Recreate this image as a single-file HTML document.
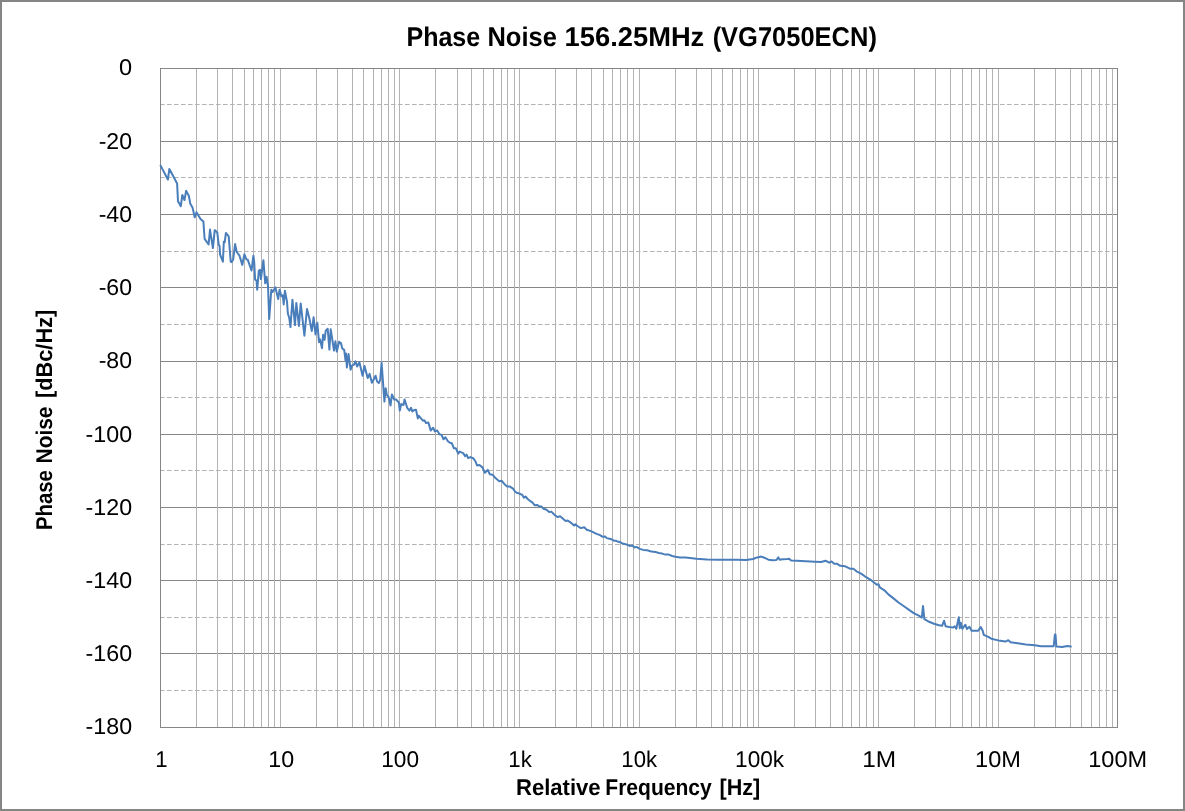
<!DOCTYPE html>
<html><head><meta charset="utf-8"><style>
html,body{margin:0;padding:0;width:1185px;height:811px;overflow:hidden;background:#fff;}
body{position:relative;font-family:"Liberation Sans",sans-serif;}
</style></head><body>
<svg width="1185" height="811" viewBox="0 0 1185 811" style="position:absolute;left:0;top:0;display:block"><rect x="1" y="1" width="1183" height="809" fill="#ffffff" stroke="#858585" stroke-width="2"/><rect x="160" y="68" width="958" height="1" fill="#868686"/><rect x="160" y="141" width="958" height="1" fill="#868686"/><rect x="160" y="214" width="958" height="1" fill="#868686"/><rect x="160" y="287" width="958" height="1" fill="#868686"/><rect x="160" y="361" width="958" height="1" fill="#868686"/><rect x="160" y="434" width="958" height="1" fill="#868686"/><rect x="160" y="507" width="958" height="1" fill="#868686"/><rect x="160" y="580" width="958" height="1" fill="#868686"/><rect x="160" y="653" width="958" height="1" fill="#868686"/><rect x="160" y="727" width="958" height="1" fill="#868686"/><line x1="160" y1="104.5" x2="1117" y2="104.5" stroke="#b3b3b3" stroke-width="1" stroke-dasharray="4.6 2.4"/><line x1="160" y1="177.5" x2="1117" y2="177.5" stroke="#b3b3b3" stroke-width="1" stroke-dasharray="4.6 2.4"/><line x1="160" y1="251.5" x2="1117" y2="251.5" stroke="#b3b3b3" stroke-width="1" stroke-dasharray="4.6 2.4"/><line x1="160" y1="324.5" x2="1117" y2="324.5" stroke="#b3b3b3" stroke-width="1" stroke-dasharray="4.6 2.4"/><line x1="160" y1="397.5" x2="1117" y2="397.5" stroke="#b3b3b3" stroke-width="1" stroke-dasharray="4.6 2.4"/><line x1="160" y1="470.5" x2="1117" y2="470.5" stroke="#b3b3b3" stroke-width="1" stroke-dasharray="4.6 2.4"/><line x1="160" y1="544.5" x2="1117" y2="544.5" stroke="#b3b3b3" stroke-width="1" stroke-dasharray="4.6 2.4"/><line x1="160" y1="617.5" x2="1117" y2="617.5" stroke="#b3b3b3" stroke-width="1" stroke-dasharray="4.6 2.4"/><line x1="160" y1="690.5" x2="1117" y2="690.5" stroke="#b3b3b3" stroke-width="1" stroke-dasharray="4.6 2.4"/><rect x="196" y="68" width="1" height="659" fill="#b3b3b3"/><rect x="217" y="68" width="1" height="659" fill="#b3b3b3"/><rect x="232" y="68" width="1" height="659" fill="#b3b3b3"/><rect x="244" y="68" width="1" height="659" fill="#b3b3b3"/><rect x="253" y="68" width="1" height="659" fill="#b3b3b3"/><rect x="261" y="68" width="1" height="659" fill="#b3b3b3"/><rect x="268" y="68" width="1" height="659" fill="#b3b3b3"/><rect x="274" y="68" width="1" height="659" fill="#b3b3b3"/><rect x="280" y="68" width="1" height="659" fill="#b3b3b3"/><rect x="316" y="68" width="1" height="659" fill="#b3b3b3"/><rect x="337" y="68" width="1" height="659" fill="#b3b3b3"/><rect x="352" y="68" width="1" height="659" fill="#b3b3b3"/><rect x="363" y="68" width="1" height="659" fill="#b3b3b3"/><rect x="373" y="68" width="1" height="659" fill="#b3b3b3"/><rect x="381" y="68" width="1" height="659" fill="#b3b3b3"/><rect x="388" y="68" width="1" height="659" fill="#b3b3b3"/><rect x="394" y="68" width="1" height="659" fill="#b3b3b3"/><rect x="399" y="68" width="1" height="659" fill="#b3b3b3"/><rect x="435" y="68" width="1" height="659" fill="#b3b3b3"/><rect x="457" y="68" width="1" height="659" fill="#b3b3b3"/><rect x="471" y="68" width="1" height="659" fill="#b3b3b3"/><rect x="483" y="68" width="1" height="659" fill="#b3b3b3"/><rect x="493" y="68" width="1" height="659" fill="#b3b3b3"/><rect x="501" y="68" width="1" height="659" fill="#b3b3b3"/><rect x="507" y="68" width="1" height="659" fill="#b3b3b3"/><rect x="514" y="68" width="1" height="659" fill="#b3b3b3"/><rect x="519" y="68" width="1" height="659" fill="#b3b3b3"/><rect x="555" y="68" width="1" height="659" fill="#b3b3b3"/><rect x="576" y="68" width="1" height="659" fill="#b3b3b3"/><rect x="591" y="68" width="1" height="659" fill="#b3b3b3"/><rect x="603" y="68" width="1" height="659" fill="#b3b3b3"/><rect x="612" y="68" width="1" height="659" fill="#b3b3b3"/><rect x="620" y="68" width="1" height="659" fill="#b3b3b3"/><rect x="627" y="68" width="1" height="659" fill="#b3b3b3"/><rect x="633" y="68" width="1" height="659" fill="#b3b3b3"/><rect x="639" y="68" width="1" height="659" fill="#b3b3b3"/><rect x="675" y="68" width="1" height="659" fill="#b3b3b3"/><rect x="696" y="68" width="1" height="659" fill="#b3b3b3"/><rect x="711" y="68" width="1" height="659" fill="#b3b3b3"/><rect x="722" y="68" width="1" height="659" fill="#b3b3b3"/><rect x="732" y="68" width="1" height="659" fill="#b3b3b3"/><rect x="740" y="68" width="1" height="659" fill="#b3b3b3"/><rect x="747" y="68" width="1" height="659" fill="#b3b3b3"/><rect x="753" y="68" width="1" height="659" fill="#b3b3b3"/><rect x="758" y="68" width="1" height="659" fill="#b3b3b3"/><rect x="794" y="68" width="1" height="659" fill="#b3b3b3"/><rect x="815" y="68" width="1" height="659" fill="#b3b3b3"/><rect x="830" y="68" width="1" height="659" fill="#b3b3b3"/><rect x="842" y="68" width="1" height="659" fill="#b3b3b3"/><rect x="851" y="68" width="1" height="659" fill="#b3b3b3"/><rect x="859" y="68" width="1" height="659" fill="#b3b3b3"/><rect x="866" y="68" width="1" height="659" fill="#b3b3b3"/><rect x="873" y="68" width="1" height="659" fill="#b3b3b3"/><rect x="878" y="68" width="1" height="659" fill="#b3b3b3"/><rect x="914" y="68" width="1" height="659" fill="#b3b3b3"/><rect x="935" y="68" width="1" height="659" fill="#b3b3b3"/><rect x="950" y="68" width="1" height="659" fill="#b3b3b3"/><rect x="962" y="68" width="1" height="659" fill="#b3b3b3"/><rect x="971" y="68" width="1" height="659" fill="#b3b3b3"/><rect x="979" y="68" width="1" height="659" fill="#b3b3b3"/><rect x="986" y="68" width="1" height="659" fill="#b3b3b3"/><rect x="992" y="68" width="1" height="659" fill="#b3b3b3"/><rect x="998" y="68" width="1" height="659" fill="#b3b3b3"/><rect x="1034" y="68" width="1" height="659" fill="#b3b3b3"/><rect x="1055" y="68" width="1" height="659" fill="#b3b3b3"/><rect x="1070" y="68" width="1" height="659" fill="#b3b3b3"/><rect x="1081" y="68" width="1" height="659" fill="#b3b3b3"/><rect x="1091" y="68" width="1" height="659" fill="#b3b3b3"/><rect x="1099" y="68" width="1" height="659" fill="#b3b3b3"/><rect x="1106" y="68" width="1" height="659" fill="#b3b3b3"/><rect x="1112" y="68" width="1" height="659" fill="#b3b3b3"/><rect x="160" y="68" width="1" height="660" fill="#868686"/><rect x="1117" y="68" width="1" height="660" fill="#868686"/><rect x="160" y="68" width="958" height="1" fill="#868686"/><rect x="160" y="727" width="958" height="1" fill="#868686"/><path d="M160.6,165.6 L167.9,179.5 L169.3,169.1 L170.1,170.2 L177.1,183.5 L178.0,201.2 L180.8,206.2 L182.3,195.0 L184.5,200.0 L186.1,190.8 L188.8,195.7 L190.3,203.7 L192.5,207.4 L194.7,217.3 L196.5,212.3 L200.5,219.1 L203.4,221.6 L204.6,238.8 L208.6,244.4 L210.0,229.6 L212.9,248.1 L214.7,230.2 L215.5,230.7 L217.3,232.6 L218.7,244.6 L219.6,246.0 L220.1,254.7 L222.9,261.7 L223.8,241.8 L224.7,242.3 L225.9,233.0 L227.5,234.9 L228.7,236.3 L230.7,261.7 L231.6,262.1 L233.2,259.4 L235.1,244.1 L236.7,252.0 L239.5,255.7 L242.3,264.9 L244.4,254.3 L246.4,259.4 L247.8,259.8 L251.5,270.5 L253.4,255.7 L254.2,262.0 L255.1,279.6 L256.5,280.5 L257.2,289.7 L258.8,270.8 L260.0,269.9 L260.9,279.1 L263.4,260.2 L265.2,283.3 L266.6,276.8 L268.0,286.0 L269.2,318.9 L271.3,289.7 L272.6,292.0 L275.4,287.4 L278.2,299.0 L279.6,289.7 L281.4,296.2 L282.8,295.3 L283.7,304.5 L284.9,290.7 L287.0,301.8 L287.9,313.8 L289.2,317.7 L290.5,327.0 L292.4,299.7 L295.0,325.1 L296.3,302.9 L298.9,326.0 L300.7,303.4 L304.4,335.7 L307.0,309.0 L309.2,317.7 L311.8,331.1 L313.6,317.3 L315.5,334.4 L317.3,322.8 L319.0,342.2 L320.1,339.4 L322.0,348.2 L323.1,334.8 L324.6,339.9 L325.7,330.7 L327.7,328.8 L329.4,349.6 L330.7,329.3 L334.0,350.5 L335.4,341.3 L336.8,351.5 L339.1,341.8 L340.9,343.1 L342.3,348.5 L344.2,349.9 L345.5,360.5 L346.0,353.6 L346.9,367.4 L348.5,354.0 L350.6,369.7 L352.0,365.6 L353.9,364.7 L355.5,361.4 L357.1,366.5 L359.4,362.3 L362.6,375.7 L364.5,366.0 L367.7,378.1 L369.6,373.9 L371.9,382.7 L375.6,375.7 L377.0,381.3 L378.8,383.1 L380.2,379.9 L381.6,362.8 L382.7,378.1 L384.4,401.6 L385.7,388.2 L386.8,394.9 L388.7,397.2 L390.5,405.5 L391.9,394.4 L394.2,399.5 L396.1,399.5 L398.9,402.7 L399.8,410.6 L401.2,404.1 L403.5,405.0 L404.6,399.5 L407.2,407.8 L409.5,410.6 L411.1,407.8 L412.3,411.5 L414.1,410.1 L416.0,409.7 L417.8,418.4 L418.7,415.7 L422.9,420.7 L424.3,420.3 L426.1,423.1 L428.4,422.6 L430.7,430.5 L433.1,427.7 L434.9,431.4 L437.2,430.5 L439.5,434.2 L441.5,434.9 L443.5,439.3 L445.4,437.3 L447.9,441.3 L449.9,442.8 L451.8,443.2 L453.8,448.2 L455.8,448.2 L458.2,453.6 L459.7,451.6 L463.2,453.1 L465.1,456.1 L466.6,454.6 L468.1,458.0 L470.6,457.1 L473.5,458.5 L475.5,461.5 L477.0,465.4 L479.4,465.0 L482.4,467.4 L484.9,472.8 L487.8,469.9 L489.8,474.3 L492.8,474.8 L495.2,477.8 L499.2,481.2 L501.6,480.7 L504.1,483.7 L507.1,486.6 L510.0,486.6 L513.0,488.6 L515.0,491.5 L516.7,492.7 L519.2,493.5 L522.2,494.8 L523.9,497.7 L525.5,496.5 L527.7,499.0 L530.2,501.1 L532.3,502.4 L534.8,505.3 L536.9,504.9 L539.1,506.2 L541.6,506.6 L543.3,508.7 L546.2,509.5 L549.2,512.1 L551.3,511.6 L554.7,515.0 L557.6,517.1 L560.1,516.3 L565.6,520.9 L567.7,520.5 L570.7,522.6 L574.1,525.6 L575.3,524.3 L577.4,526.0 L580.8,528.1 L584.2,527.3 L586.7,529.8 L591.0,531.1 L596.0,533.6 L600.0,535.1 L602.7,536.8 L605.1,536.4 L606.8,538.1 L609.5,538.8 L612.1,539.5 L614.2,540.8 L616.2,540.8 L618.2,541.8 L620.2,542.1 L622.3,543.5 L625.6,544.2 L627.7,544.9 L629.7,545.9 L632.4,545.5 L634.4,547.5 L636.5,546.9 L639.8,548.9 L643.2,549.9 L647.3,550.2 L651.3,551.6 L655.4,551.9 L658.7,553.0 L662.1,553.6 L665.5,554.6 L668.9,554.6 L672.2,556.0 L675.6,556.7 L680.0,557.4 L685.6,557.4 L696.4,558.7 L707.2,559.5 L718.0,559.8 L726.1,559.8 L736.9,559.8 L746.1,560.0 L753.2,559.0 L756.2,557.7 L761.3,556.6 L764.3,557.7 L768.4,559.7 L772.4,560.2 L776.5,560.0 L778.3,557.4 L779.7,559.7 L782.5,559.2 L787.6,559.0 L789.1,558.7 L791.1,560.4 L796.7,560.7 L805.8,561.2 L814.9,561.7 L821.0,562.0 L825.6,560.7 L829.1,562.7 L831.6,561.4 L834.2,563.7 L836.7,563.7 L840.3,565.8 L845.3,566.3 L850.4,568.8 L853.4,568.8 L856.5,571.3 L861.1,573.6 L866.1,577.2 L871.2,580.2 L876.8,584.7 L878.5,584.2 L879.8,587.3 L884.4,590.3 L888.4,594.4 L893.5,598.4 L898.5,602.5 L903.6,606.0 L908.7,609.6 L913.7,613.1 L918.8,615.6 L921.8,617.7 L923.0,606.0 L924.4,619.2 L927.9,621.2 L934.0,623.7 L939.0,625.3 L942.1,625.8 L944.1,620.7 L945.6,626.3 L949.2,627.0 L953.2,627.6 L954.7,626.3 L956.3,628.8 L958.8,617.2 L959.8,628.3 L960.8,622.7 L962.3,628.8 L965.4,624.7 L966.9,629.0 L969.4,626.8 L971.6,630.8 L978.2,630.8 L980.7,627.0 L982.7,630.8 L983.7,634.8 L988.3,636.8 L991.3,638.7 L998.4,640.4 L1005.5,641.6 L1008.3,640.2 L1010.6,642.2 L1017.7,643.2 L1025.8,644.6 L1034.9,645.2 L1041.0,646.3 L1053.7,646.2 L1054.9,634.6 L1055.5,634.6 L1056.4,646.6 L1062.2,647.0 L1067.3,646.0 L1070.8,646.5" fill="none" stroke="#4a7ebb" stroke-width="2" stroke-linejoin="round" stroke-linecap="round"/></svg><svg width="1185" height="811" viewBox="0 0 1185 811" style="position:absolute;left:0;top:0;display:block;will-change:transform"><text transform="translate(406.44,45.84) scale(0.9235,1.0)" text-rendering="geometricPrecision" font-family="Liberation Sans, sans-serif" font-size="27.1" font-weight="bold" fill="#000">Phase</text><text transform="translate(487.46,45.84) scale(0.9409,1.0)" text-rendering="geometricPrecision" font-family="Liberation Sans, sans-serif" font-size="27.1" font-weight="bold" fill="#000">Noise</text><text transform="translate(564.59,45.84) scale(1.0081,1.0)" text-rendering="geometricPrecision" font-family="Liberation Sans, sans-serif" font-size="27.1" font-weight="bold" fill="#000">156.25MHz</text><text transform="translate(712.63,45.84) scale(0.9404,1.0)" text-rendering="geometricPrecision" font-family="Liberation Sans, sans-serif" font-size="27.1" font-weight="bold" fill="#000">(VG7050ECN)</text><text transform="translate(515.95,794.75) scale(0.9694,1)" text-rendering="geometricPrecision" font-family="Liberation Sans, sans-serif" font-size="22.75" font-weight="bold" fill="#000">Relative</text><text transform="translate(605.26,794.75) scale(0.9259,1)" text-rendering="geometricPrecision" font-family="Liberation Sans, sans-serif" font-size="22.75" font-weight="bold" fill="#000">Frequency</text><text transform="translate(719.47,794.75) scale(0.9493,1)" text-rendering="geometricPrecision" font-family="Liberation Sans, sans-serif" font-size="22.75" font-weight="bold" fill="#000">[Hz]</text><text transform="translate(51.8,530.04) rotate(-90) scale(0.8934,1)" text-rendering="geometricPrecision" font-family="Liberation Sans, sans-serif" font-size="22.75" font-weight="bold" fill="#000">Phase</text><text transform="translate(51.8,463.38) rotate(-90) scale(0.9179,1)" text-rendering="geometricPrecision" font-family="Liberation Sans, sans-serif" font-size="22.75" font-weight="bold" fill="#000">Noise</text><text transform="translate(51.8,398.04) rotate(-90) scale(0.9576,1)" text-rendering="geometricPrecision" font-family="Liberation Sans, sans-serif" font-size="22.75" font-weight="bold" fill="#000">[dBc/Hz]</text><text transform="translate(155.35,766.8) scale(0.9697,1)" text-rendering="geometricPrecision" font-family="Liberation Sans, sans-serif" font-size="22.8" fill="#000">1</text><text transform="translate(268.26,766.8) scale(1.0219,1)" text-rendering="geometricPrecision" font-family="Liberation Sans, sans-serif" font-size="22.8" fill="#000">10</text><text transform="translate(381.21,766.8) scale(0.9944,1)" text-rendering="geometricPrecision" font-family="Liberation Sans, sans-serif" font-size="22.8" fill="#000">100</text><text transform="translate(508.34,766.8) scale(0.9777,1)" text-rendering="geometricPrecision" font-family="Liberation Sans, sans-serif" font-size="22.8" fill="#000">1k</text><text transform="translate(621.35,766.8) scale(0.9714,1)" text-rendering="geometricPrecision" font-family="Liberation Sans, sans-serif" font-size="22.8" fill="#000">10k</text><text transform="translate(735.11,766.8) scale(0.9916,1)" text-rendering="geometricPrecision" font-family="Liberation Sans, sans-serif" font-size="22.8" fill="#000">100k</text><text transform="translate(862.28,766.8) scale(1.0712,1)" text-rendering="geometricPrecision" font-family="Liberation Sans, sans-serif" font-size="22.8" fill="#000">1M</text><text transform="translate(975.04,766.8) scale(1.0343,1)" text-rendering="geometricPrecision" font-family="Liberation Sans, sans-serif" font-size="22.8" fill="#000">10M</text><text transform="translate(1088.25,766.8) scale(1.0318,1)" text-rendering="geometricPrecision" font-family="Liberation Sans, sans-serif" font-size="22.8" fill="#000">100M</text><text transform="translate(118.94,74.5) scale(1.0349,1)" text-rendering="geometricPrecision" font-family="Liberation Sans, sans-serif" font-size="22.8" fill="#000">0</text><text transform="translate(98.69,148.7) scale(1.0113,1)" text-rendering="geometricPrecision" font-family="Liberation Sans, sans-serif" font-size="22.8" fill="#000">-20</text><text transform="translate(98.69,221.7) scale(1.0113,1)" text-rendering="geometricPrecision" font-family="Liberation Sans, sans-serif" font-size="22.8" fill="#000">-40</text><text transform="translate(98.69,294.7) scale(1.0113,1)" text-rendering="geometricPrecision" font-family="Liberation Sans, sans-serif" font-size="22.8" fill="#000">-60</text><text transform="translate(98.69,367.7) scale(1.0113,1)" text-rendering="geometricPrecision" font-family="Liberation Sans, sans-serif" font-size="22.8" fill="#000">-80</text><text transform="translate(85.58,441.8) scale(1.0195,1)" text-rendering="geometricPrecision" font-family="Liberation Sans, sans-serif" font-size="22.8" fill="#000">-100</text><text transform="translate(85.58,514.8) scale(1.0195,1)" text-rendering="geometricPrecision" font-family="Liberation Sans, sans-serif" font-size="22.8" fill="#000">-120</text><text transform="translate(85.58,587.8) scale(1.0195,1)" text-rendering="geometricPrecision" font-family="Liberation Sans, sans-serif" font-size="22.8" fill="#000">-140</text><text transform="translate(85.58,660.8) scale(1.0195,1)" text-rendering="geometricPrecision" font-family="Liberation Sans, sans-serif" font-size="22.8" fill="#000">-160</text><text transform="translate(85.58,733.8) scale(1.0195,1)" text-rendering="geometricPrecision" font-family="Liberation Sans, sans-serif" font-size="22.8" fill="#000">-180</text></svg>
</body></html>
